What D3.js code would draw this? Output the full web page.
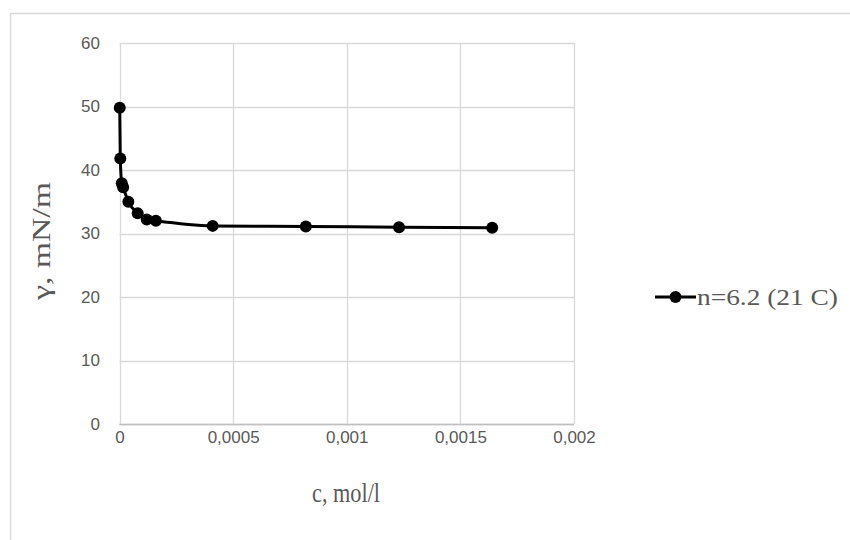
<!DOCTYPE html>
<html>
<head>
<meta charset="utf-8">
<script src="https://cdn.jsdelivr.net/npm/d3@7/dist/d3.min.js"></script>
<style>
  html, body { margin: 0; padding: 0; background: #fff; }
  svg { display: block; }
</style>
</head>
<body>
<svg id="chart" width="850" height="540"></svg>
<script>
// ---- data ----
const concentration = [0.000001, 0.0000035, 0.00001, 0.000016, 0.000039, 0.00008, 0.00012, 0.00016, 0.00041, 0.00082, 0.00123, 0.00164];
const tension = [49.8, 41.8, 37.9, 37.3, 35.0, 33.2, 32.2, 32.0, 31.2, 31.1, 31.0, 30.9];
const xTicks = [0, 0.0005, 0.001, 0.0015, 0.002];
const xTickLabels = ["0", "0,0005", "0,001", "0,0015", "0,002"];
const yTicks = [0, 10, 20, 30, 40, 50, 60];
const seriesName = "n=6.2 (21 C)";
const xTitle = "c, mol/l";
const yTitle = "γ, mN/m";

const svg = d3.select("#chart");
const W = 850, H = 540;

// outer chart border
svg.append("rect").attr("x", 10.5).attr("y", 13.5).attr("width", W).attr("height", H)
  .attr("fill", "#fff").attr("stroke", "#d9d9d9").attr("stroke-width", 1.5);

const plot = { left: 119.5, right: 574, top: 43, bottom: 424 };
const x = d3.scaleLinear().domain([0, 0.002]).range([plot.left, plot.right]);
const y = d3.scaleLinear().domain([0, 60]).range([plot.bottom, plot.top]);

const grid = svg.append("g");
grid.selectAll("line.h").data(yTicks).join("line")
  .attr("x1", plot.left).attr("x2", plot.right)
  .attr("y1", d => Math.round(y(d)) + 0.5).attr("y2", d => Math.round(y(d)) + 0.5)
  .attr("stroke", "#d9d9d9").attr("stroke-width", 1.3);
grid.selectAll("line.v").data(xTicks).join("line")
  .attr("y1", plot.top).attr("y2", plot.bottom)
  .attr("x1", d => Math.round(x(d)) + 0.5).attr("x2", d => Math.round(x(d)) + 0.5)
  .attr("stroke", "#d9d9d9").attr("stroke-width", 1.3);
svg.append("line").attr("x1", plot.left).attr("x2", plot.right)
  .attr("y1", Math.round(y(0)) + 0.5).attr("y2", Math.round(y(0)) + 0.5)
  .attr("stroke", "#bfbfbf").attr("stroke-width", 1.3);

const xAxis = d3.axisBottom(x).tickValues(xTicks).tickFormat((d, i) => xTickLabels[i]).tickSize(0).tickPadding(0);
const gx = svg.append("g").attr("transform", `translate(0, 437)`).call(xAxis);
gx.select(".domain").remove();
gx.selectAll("text").attr("font-family", "'Liberation Sans', Arial, sans-serif").attr("font-size", 17)
  .attr("fill", "#595959").attr("dy", "0.35em").attr("y", 0);

const yAxis = d3.axisLeft(y).tickValues(yTicks).tickSize(0).tickPadding(0);
const gy = svg.append("g").attr("transform", `translate(100, 0)`).call(yAxis);
gy.select(".domain").remove();
gy.selectAll("text").attr("font-family", "'Liberation Sans', Arial, sans-serif").attr("font-size", 17)
  .attr("fill", "#595959").attr("x", 0);

const serif = "'Liberation Serif', 'Times New Roman', serif";
svg.append("text").attr("x", 346).attr("y", 502).attr("text-anchor", "middle")
  .attr("font-family", serif).attr("font-size", 28)
  .attr("fill", "#595959").attr("textLength", 68).attr("lengthAdjust", "spacingAndGlyphs").text(xTitle);
svg.append("text").attr("transform", "translate(50, 241) rotate(-90)").attr("text-anchor", "middle")
  .attr("font-family", serif).attr("font-size", 25)
  .attr("fill", "#595959").attr("textLength", 118).attr("lengthAdjust", "spacingAndGlyphs").text(yTitle);

// series
const pts = concentration.map((c, i) => [c, tension[i]]);
const line = d3.line().x(d => x(d[0])).y(d => y(d[1])).curve(d3.curveMonotoneX);
svg.append("path").datum(pts).attr("d", line)
  .attr("fill", "none").attr("stroke", "#000").attr("stroke-width", 3).attr("stroke-linejoin", "round");
svg.append("g").selectAll("circle").data(pts).join("circle")
  .attr("cx", d => x(d[0])).attr("cy", d => y(d[1])).attr("r", 6).attr("fill", "#000");

// legend
const lg = svg.append("g").attr("transform", "translate(655, 297)");
lg.append("line").attr("x1", 0).attr("x2", 41).attr("y1", 0).attr("y2", 0)
  .attr("stroke", "#000").attr("stroke-width", 3);
lg.append("circle").attr("cx", 20.5).attr("cy", 0).attr("r", 6).attr("fill", "#000");
lg.append("text").attr("x", 42).attr("y", 8)
  .attr("font-family", serif).attr("font-size", 24)
  .attr("fill", "#595959").attr("textLength", 141).attr("lengthAdjust", "spacingAndGlyphs").text(seriesName);
</script>
</body>
</html>
